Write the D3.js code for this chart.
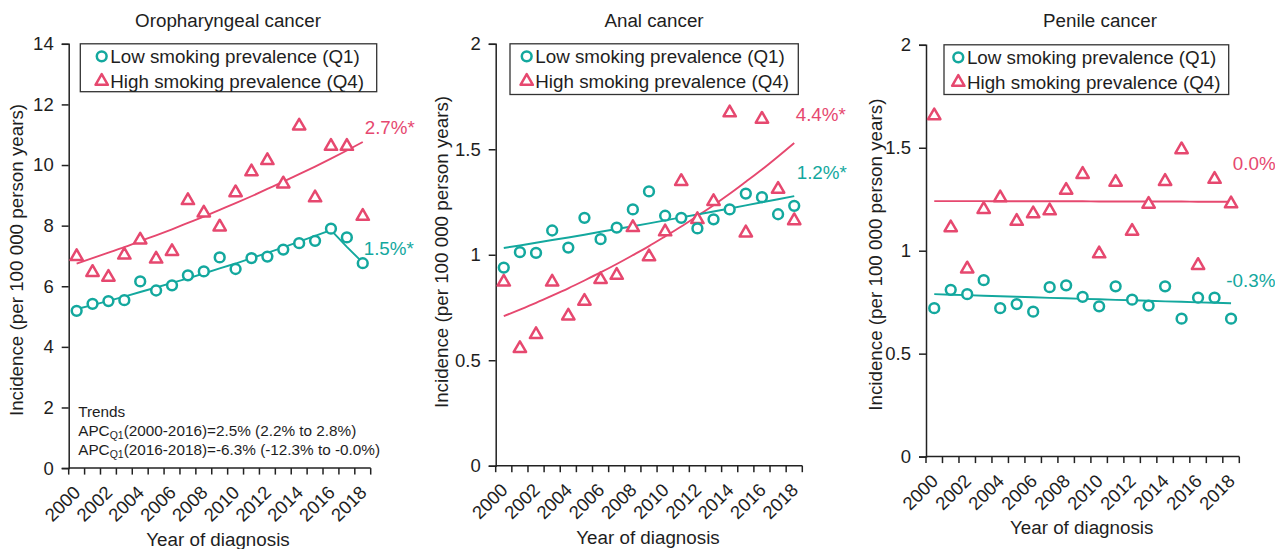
<!DOCTYPE html>
<html>
<head>
<meta charset="utf-8">
<script src="https://cdn.jsdelivr.net/npm/d3@7"></script>
<style>
  body { margin: 0; background: #fff; }
  text { font-family: "Liberation Sans", Arial, sans-serif; fill: #1e1e1e; }
</style>
</head>
<body>
<svg id="chart" width="1275" height="549"></svg>
<script>
// categories
const years = [2000, 2001, 2002, 2003, 2004, 2005, 2006, 2007, 2008, 2009,
               2010, 2011, 2012, 2013, 2014, 2015, 2016, 2017, 2018];
const yearLabels = [2000, 2002, 2004, 2006, 2008, 2010, 2012, 2014, 2016, 2018];

// oropharyngeal cancer
const oroLow  = [5.19, 5.42, 5.51, 5.54, 6.16, 5.86, 6.03, 6.36, 6.49, 6.95,
                 6.57, 6.93, 6.98, 7.21, 7.42, 7.50, 7.90, 7.61, 6.76];
const oroHigh = [6.98, 6.46, 6.30, 7.03, 7.53, 6.90, 7.15, 8.83, 8.42, 7.96,
                 9.09, 9.78, 10.15, 9.38, 11.29, 8.92, 10.62, 10.62, 8.31];
const oroLowFit  = [5.25, 5.38, 5.52, 5.66, 5.81, 5.96, 6.11, 6.26, 6.42, 6.59,
                    6.75, 6.93, 7.10, 7.28, 7.47, 7.66, 7.85, 7.30, 6.78];
const oroHighFit = [6.75, 6.93, 7.11, 7.29, 7.49, 7.68, 7.88, 8.09, 8.30, 8.52,
                    8.74, 8.97, 9.21, 9.45, 9.70, 9.95, 10.21, 10.48, 10.76];

// anal cancer
const analLow  = [0.939, 1.012, 1.009, 1.115, 1.034, 1.175, 1.074, 1.129, 1.215, 1.300,
                  1.185, 1.175, 1.125, 1.168, 1.215, 1.290, 1.273, 1.192, 1.232];
const analHigh = [0.871, 0.556, 0.622, 0.871, 0.710, 0.780, 0.883, 0.903, 1.129, 0.991,
                  1.109, 1.348, 1.167, 1.253, 1.673, 1.104, 1.643, 1.311, 1.162];
const analLowFit  = [1.032, 1.044, 1.057, 1.070, 1.082, 1.095, 1.109, 1.122, 1.135, 1.149,
                     1.163, 1.177, 1.191, 1.205, 1.219, 1.234, 1.249, 1.263, 1.278];
const analHighFit = [0.709, 0.740, 0.772, 0.806, 0.841, 0.878, 0.916, 0.956, 0.998, 1.041,
                     1.087, 1.134, 1.184, 1.235, 1.289, 1.346, 1.404, 1.466, 1.530];

// penile cancer
const penLow  = [0.721, 0.810, 0.789, 0.857, 0.721, 0.741, 0.704, 0.823, 0.832, 0.776,
                 0.730, 0.827, 0.762, 0.733, 0.827, 0.670, 0.772, 0.772, 0.670];
const penHigh = [1.656, 1.112, 0.912, 1.201, 1.257, 1.143, 1.180, 1.194, 1.294, 1.371,
                 0.985, 1.333, 1.095, 1.226, 1.337, 1.491, 0.929, 1.347, 1.228];
const penLowFit  = [0.789, 0.786, 0.784, 0.781, 0.779, 0.776, 0.774, 0.771, 0.769, 0.766,
                    0.764, 0.761, 0.759, 0.757, 0.754, 0.752, 0.749, 0.747, 0.745];
const penHighFit = [1.241, 1.241, 1.241, 1.241, 1.240, 1.240, 1.240, 1.240, 1.240, 1.240,
                    1.239, 1.239, 1.239, 1.239, 1.239, 1.239, 1.238, 1.238, 1.238];

const seriesNames = ["Low smoking prevalence (Q1)", "High smoking prevalence (Q4)"];
const trendLines = [
  ["Trends"],
  ["APC", "Q1", "(2000-2016)=2.5% (2.2% to 2.8%)"],
  ["APC", "Q1", "(2016-2018)=-6.3% (-12.3% to -0.0%)"]
];

const teal = "#13a89e";
const pink = "#e6486f";
const fs = "18.8px";

const panels = [
  { title: "Oropharyngeal cancer", low: oroLow, high: oroHigh, lowFit: oroLowFit, highFit: oroHighFit,
    yMax: 14, yTicks: [0, 2, 4, 6, 8, 10, 12, 14],
    lowLabel: { text: "1.5%*", v: 7.26, dx: -7 }, highLabel: { text: "2.7%*", v: 11.26, dx: -6 },
    left: 68.7, right: 370.7, top: 43.8, bottom: 468.1,
    titleX: 228, yTitle: [23.3, 260], xTitle: [218, 546],
    legend: { x: 80.3, y: 43.8, w: 296.4, h: 47.9, mx: 21.4 }, trends: true },
  { title: "Anal cancer", low: analLow, high: analHigh, lowFit: analLowFit, highFit: analHighFit,
    yMax: 2, yTicks: [0, 0.5, 1, 1.5, 2],
    lowLabel: { text: "1.2%*", v: 1.391, dx: -5.6 }, highLabel: { text: "4.4%*", v: 1.668, dx: -6.6 },
    left: 495.7, right: 802.3, top: 43.8, bottom: 465.7,
    titleX: 654, yTitle: [448.3, 252], xTitle: [648, 543.5],
    legend: { x: 510, y: 43.8, w: 288.3, h: 50.7, mx: 16.7 } },
  { title: "Penile cancer", low: penLow, high: penHigh, lowFit: penLowFit, highFit: penHighFit,
    yMax: 2, yTicks: [0, 0.5, 1, 1.5, 2],
    lowLabel: { text: "-0.3%", v: 0.858, dx: -13 }, highLabel: { text: "0.0%", v: 1.4235, dx: -6.5 },
    left: 926, right: 1239.3, top: 44.8, bottom: 456.6,
    titleX: 1100, yTitle: [881.6, 254.7], xTitle: [1081.7, 534],
    legend: { x: 944, y: 44.8, w: 284.7, h: 49.7, mx: 14.3 } }
];

const svg = d3.select("#chart");
const tri = d3.symbol(d3.symbolTriangle, 66);

panels.forEach((p) => {
  const g = svg.append("g");
  const x = d3.scaleBand().domain(years).range([p.left, p.right]).padding(0);
  const y = d3.scaleLinear().domain([0, p.yMax]).range([p.bottom, p.top]);
  const cx = (yr) => x(yr) + x.bandwidth() / 2;

  // title
  g.append("text").attr("x", p.titleX).attr("y", 26.5)
    .attr("text-anchor", "middle").style("font-size", fs).text(p.title);

  // y axis
  const yAxis = d3.axisLeft(y).tickValues(p.yTicks).tickSize(7).tickPadding(8)
    .tickFormat(d3.format(""));
  const gy = g.append("g").attr("transform", "translate(" + p.left + ",0)").call(yAxis);
  gy.select(".domain").attr("stroke", "#222").attr("stroke-width", 1.5);
  gy.selectAll(".tick line").attr("stroke", "#222").attr("stroke-width", 1.5);
  gy.selectAll(".tick text").style("font-size", "18.5px").attr("fill", "#1e1e1e")
    .attr("font-family", null);

  // x axis: ticks on category boundaries, labels every other year
  const gx = g.append("g");
  gx.append("line").attr("x1", p.left).attr("x2", p.right)
    .attr("y1", p.bottom).attr("y2", p.bottom)
    .attr("stroke", "#222").attr("stroke-width", 1.5);
  const bounds = years.map((yr) => x(yr)).concat([p.right]);
  gx.selectAll(".xt").data(bounds).enter().append("line")
    .attr("x1", (d) => d).attr("x2", (d) => d)
    .attr("y1", p.bottom).attr("y2", p.bottom + 6.5)
    .attr("stroke", "#222").attr("stroke-width", 1.5);
  gx.selectAll(".xl").data(yearLabels).enter().append("text")
    .attr("transform", (d) => "translate(" + (cx(d) + 5) + "," + (p.bottom + 25.5) + ") rotate(-45)")
    .attr("text-anchor", "end").style("font-size", "18.5px").text((d) => d);

  // axis titles
  g.append("text")
    .attr("transform", "translate(" + p.yTitle[0] + "," + p.yTitle[1] + ") rotate(-90)")
    .attr("text-anchor", "middle").style("font-size", fs)
    .text("Incidence (per 100 000 person years)");
  g.append("text").attr("x", p.xTitle[0]).attr("y", p.xTitle[1])
    .attr("text-anchor", "middle").style("font-size", fs).text("Year of diagnosis");

  // fitted trend lines
  const line = d3.line().x((d, i) => cx(years[i])).y((d) => y(d));
  g.append("path").datum(p.highFit).attr("d", line.curve(d3.curveMonotoneX))
    .attr("fill", "none").attr("stroke", pink).attr("stroke-width", 1.9);
  g.append("path").datum(p.lowFit).attr("d", d3.line().x((d, i) => cx(years[i])).y((d) => y(d)))
    .attr("fill", "none").attr("stroke", teal).attr("stroke-width", 1.9);

  // markers
  g.selectAll(".hi").data(p.high).enter().append("path")
    .attr("d", tri)
    .attr("transform", (d, i) => "translate(" + cx(years[i]) + "," + y(d) + ")")
    .attr("fill", "#fff").attr("stroke", pink).attr("stroke-width", 2.5)
    .attr("stroke-linejoin", "round");
  g.selectAll(".lo").data(p.low).enter().append("circle")
    .attr("cx", (d, i) => cx(years[i])).attr("cy", (d) => y(d)).attr("r", 4.9)
    .attr("fill", "#fff").attr("stroke", teal).attr("stroke-width", 2.5);

  // APC labels
  g.append("text").attr("x", p.right + p.highLabel.dx).attr("y", y(p.highLabel.v) + 6.7)
    .style("font-size", fs).style("fill", pink).text(p.highLabel.text);
  g.append("text").attr("x", p.right + p.lowLabel.dx).attr("y", y(p.lowLabel.v) + 6.7)
    .style("font-size", fs).style("fill", teal).text(p.lowLabel.text);

  // legend
  const L = p.legend;
  g.append("rect").attr("x", L.x).attr("y", L.y).attr("width", L.w).attr("height", L.h)
    .attr("fill", "#fff").attr("stroke", "#333").attr("stroke-width", 1.3);
  const rows = [L.y + 12.5, L.y + 37.5];
  g.append("circle").attr("cx", L.x + L.mx).attr("cy", rows[0]).attr("r", 4.9)
    .attr("fill", "#fff").attr("stroke", teal).attr("stroke-width", 2.5);
  g.append("path").attr("d", tri)
    .attr("transform", "translate(" + (L.x + L.mx) + "," + rows[1] + ")")
    .attr("fill", "#fff").attr("stroke", pink).attr("stroke-width", 2.5)
    .attr("stroke-linejoin", "round");
  seriesNames.forEach((name, i) => {
    g.append("text").attr("x", L.x + L.mx + 8.6).attr("y", rows[i] + 6.7)
      .style("font-size", fs).text(name);
  });

  // trend annotation (first panel only)
  if (p.trends) {
    const t = g.append("text").attr("x", p.left + 9.5).attr("y", 417).style("font-size", "15.3px");
    trendLines.forEach((parts, i) => {
      const ln = t.append("tspan").attr("x", p.left + 9.5).attr("y", 417 + i * 19);
      if (parts.length === 1) {
        ln.text(parts[0]);
      } else {
        ln.append("tspan").text(parts[0]);
        t.append("tspan").attr("dy", 3).style("font-size", "10.5px").text(parts[1]);
        t.append("tspan").attr("dy", -3).text(parts[2]);
      }
    });
  }
});
</script>
</body>
</html>
